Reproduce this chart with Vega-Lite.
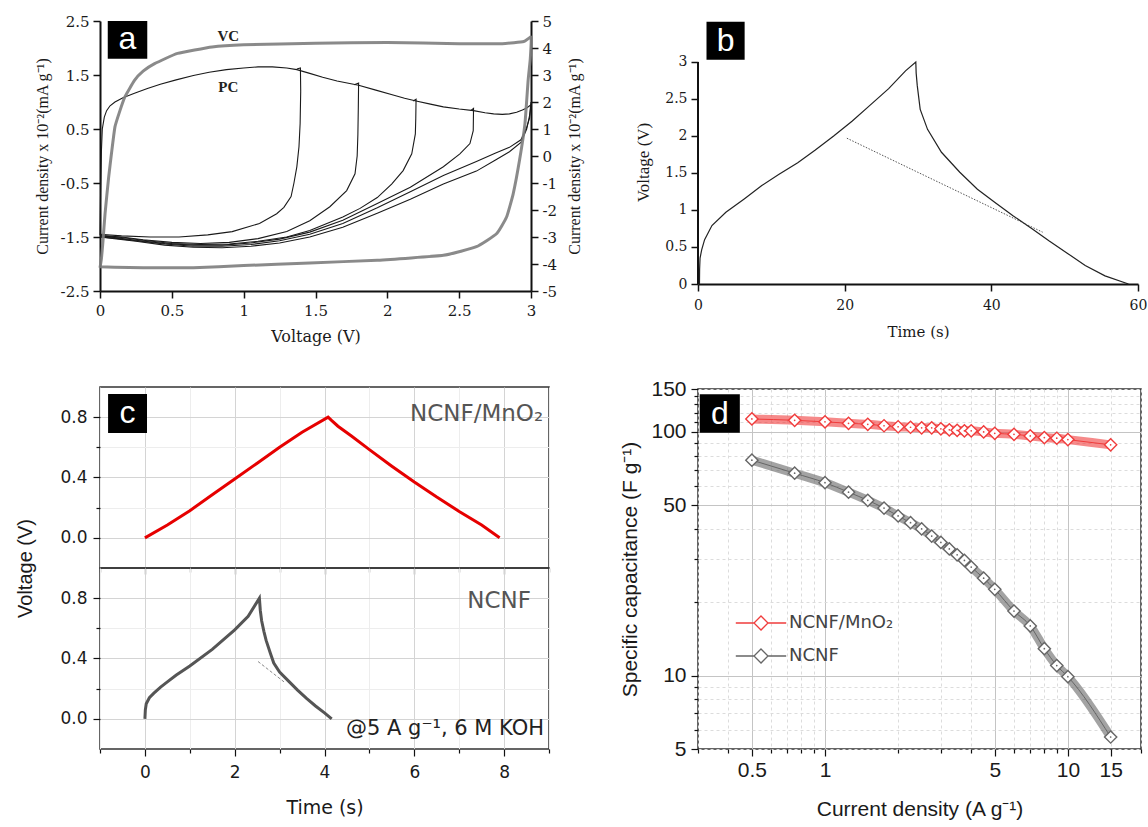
{
"$schema": "https://vega.github.io/schema/vega-lite/v6.json",
"padding": {"left": 15, "top": 14, "right": 0, "bottom": 0},
"config": {
  "view": {"stroke": null},
  "font": "Liberation Sans",
  "axis": {"labelFlush": false, "labelOverlap": false, "grid": false, "domainColor": "#111", "tickColor": "#111", "labelColor": "#1a1a1a", "titleColor": "#1a1a1a", "titleFontWeight": "normal", "domainWidth": 1.5, "tickWidth": 1.2}
},
"datasets": {
  "pc": [
    {"s":"up","i":0,"v":0,"j":-1.47},{"s":"up","i":1,"v":0.004,"j":-0.7},{"s":"up","i":2,"v":0.01,"j":0.1},{"s":"up","i":3,"v":0.016,"j":0.5},{"s":"up","i":4,"v":0.03,"j":0.72},{"s":"up","i":5,"v":0.046,"j":0.84},{"s":"up","i":6,"v":0.07,"j":0.93},{"s":"up","i":7,"v":0.104,"j":1.0},{"s":"up","i":8,"v":0.16,"j":1.08},{"s":"up","i":9,"v":0.24,"j":1.16},{"s":"up","i":10,"v":0.33,"j":1.25},{"s":"up","i":11,"v":0.42,"j":1.33},{"s":"up","i":12,"v":0.53,"j":1.41},{"s":"up","i":13,"v":0.65,"j":1.49},{"s":"up","i":14,"v":0.76,"j":1.55},{"s":"up","i":15,"v":0.88,"j":1.6},{"s":"up","i":16,"v":1.0,"j":1.63},{"s":"up","i":17,"v":1.1,"j":1.65},{"s":"up","i":18,"v":1.2,"j":1.65},{"s":"up","i":19,"v":1.3,"j":1.63},{"s":"up","i":20,"v":1.37,"j":1.6},{"s":"up","i":21,"v":1.46,"j":1.53},{"s":"up","i":22,"v":1.55,"j":1.46},{"s":"up","i":23,"v":1.65,"j":1.39},{"s":"up","i":24,"v":1.8,"j":1.31},{"s":"up","i":25,"v":1.92,"j":1.22},{"s":"up","i":26,"v":2.04,"j":1.13},{"s":"up","i":27,"v":2.12,"j":1.07},{"s":"up","i":28,"v":2.2,"j":1.02},{"s":"up","i":29,"v":2.3,"j":0.96},{"s":"up","i":30,"v":2.39,"j":0.91},{"s":"up","i":31,"v":2.5,"j":0.87},{"s":"up","i":32,"v":2.6,"j":0.84},{"s":"up","i":33,"v":2.68,"j":0.8},{"s":"up","i":34,"v":2.74,"j":0.78},{"s":"up","i":35,"v":2.8,"j":0.77},{"s":"up","i":36,"v":2.85,"j":0.78},{"s":"up","i":37,"v":2.9,"j":0.81},{"s":"up","i":38,"v":2.94,"j":0.85},{"s":"up","i":39,"v":2.97,"j":0.89},{"s":"up","i":40,"v":3.0,"j":0.95},
    {"s":"r14","i":0,"v":1.37,"j":1.61},{"s":"r14","i":1,"v":1.395,"j":1.63},{"s":"r14","i":2,"v":1.397,"j":1.2},{"s":"r14","i":3,"v":1.393,"j":0.6},{"s":"r14","i":4,"v":1.385,"j":0.17},{"s":"r14","i":5,"v":1.37,"j":-0.2},{"s":"r14","i":6,"v":1.35,"j":-0.5},{"s":"r14","i":7,"v":1.33,"j":-0.75},{"s":"r14","i":8,"v":1.28,"j":-0.95},{"s":"r14","i":9,"v":1.23,"j":-1.07},{"s":"r14","i":10,"v":1.11,"j":-1.25},{"s":"r14","i":11,"v":0.92,"j":-1.4},{"s":"r14","i":12,"v":0.75,"j":-1.46},{"s":"r14","i":13,"v":0.55,"j":-1.5},{"s":"r14","i":14,"v":0.35,"j":-1.5},{"s":"r14","i":15,"v":0.15,"j":-1.48},{"s":"r14","i":16,"v":0,"j":-1.45},
    {"s":"r18","i":0,"v":1.77,"j":1.32},{"s":"r18","i":1,"v":1.8,"j":1.35},{"s":"r18","i":2,"v":1.798,"j":0.9},{"s":"r18","i":3,"v":1.795,"j":0.4},{"s":"r18","i":4,"v":1.79,"j":0.0},{"s":"r18","i":5,"v":1.775,"j":-0.33},{"s":"r18","i":6,"v":1.717,"j":-0.64},{"s":"r18","i":7,"v":1.6,"j":-0.94},{"s":"r18","i":8,"v":1.46,"j":-1.2},{"s":"r18","i":9,"v":1.3,"j":-1.4},{"s":"r18","i":10,"v":1.1,"j":-1.53},{"s":"r18","i":11,"v":0.9,"j":-1.6},{"s":"r18","i":12,"v":0.7,"j":-1.62},{"s":"r18","i":13,"v":0.5,"j":-1.6},{"s":"r18","i":14,"v":0.3,"j":-1.55},{"s":"r18","i":15,"v":0.15,"j":-1.5},{"s":"r18","i":16,"v":0,"j":-1.47},
    {"s":"r22","i":0,"v":2.18,"j":1.02},{"s":"r22","i":1,"v":2.2,"j":1.05},{"s":"r22","i":2,"v":2.198,"j":0.7},{"s":"r22","i":3,"v":2.195,"j":0.41},{"s":"r22","i":4,"v":2.17,"j":0.04},{"s":"r22","i":5,"v":2.11,"j":-0.27},{"s":"r22","i":6,"v":2.03,"j":-0.52},{"s":"r22","i":7,"v":1.93,"j":-0.77},{"s":"r22","i":8,"v":1.81,"j":-0.97},{"s":"r22","i":9,"v":1.69,"j":-1.13},{"s":"r22","i":10,"v":1.46,"j":-1.38},{"s":"r22","i":11,"v":1.3,"j":-1.5},{"s":"r22","i":12,"v":1.1,"j":-1.58},{"s":"r22","i":13,"v":0.9,"j":-1.63},{"s":"r22","i":14,"v":0.7,"j":-1.64},{"s":"r22","i":15,"v":0.5,"j":-1.62},{"s":"r22","i":16,"v":0.3,"j":-1.56},{"s":"r22","i":17,"v":0.15,"j":-1.51},{"s":"r22","i":18,"v":0,"j":-1.48},
    {"s":"r26","i":0,"v":2.58,"j":0.84},{"s":"r26","i":1,"v":2.6,"j":0.88},{"s":"r26","i":2,"v":2.598,"j":0.47},{"s":"r26","i":3,"v":2.575,"j":0.23},{"s":"r26","i":4,"v":2.505,"j":0.04},{"s":"r26","i":5,"v":2.39,"j":-0.2},{"s":"r26","i":6,"v":2.16,"j":-0.58},{"s":"r26","i":7,"v":1.93,"j":-0.88},{"s":"r26","i":8,"v":1.69,"j":-1.19},{"s":"r26","i":9,"v":1.46,"j":-1.41},{"s":"r26","i":10,"v":1.25,"j":-1.54},{"s":"r26","i":11,"v":1.05,"j":-1.61},{"s":"r26","i":12,"v":0.85,"j":-1.65},{"s":"r26","i":13,"v":0.65,"j":-1.65},{"s":"r26","i":14,"v":0.45,"j":-1.62},{"s":"r26","i":15,"v":0.25,"j":-1.56},{"s":"r26","i":16,"v":0.1,"j":-1.51},{"s":"r26","i":17,"v":0,"j":-1.49},
    {"s":"r30a","i":0,"v":3.0,"j":0.95},{"s":"r30a","i":1,"v":2.99,"j":0.7},{"s":"r30a","i":2,"v":2.97,"j":0.53},{"s":"r30a","i":3,"v":2.93,"j":0.3},{"s":"r30a","i":4,"v":2.85,"j":0.16},{"s":"r30a","i":5,"v":2.75,"j":0.05},{"s":"r30a","i":6,"v":2.62,"j":-0.1},{"s":"r30a","i":7,"v":2.39,"j":-0.36},{"s":"r30a","i":8,"v":2.16,"j":-0.66},{"s":"r30a","i":9,"v":1.93,"j":-0.96},{"s":"r30a","i":10,"v":1.69,"j":-1.25},{"s":"r30a","i":11,"v":1.46,"j":-1.45},{"s":"r30a","i":12,"v":1.25,"j":-1.57},{"s":"r30a","i":13,"v":1.05,"j":-1.64},{"s":"r30a","i":14,"v":0.85,"j":-1.67},{"s":"r30a","i":15,"v":0.65,"j":-1.67},{"s":"r30a","i":16,"v":0.45,"j":-1.63},{"s":"r30a","i":17,"v":0.25,"j":-1.57},{"s":"r30a","i":18,"v":0.1,"j":-1.52},{"s":"r30a","i":19,"v":0,"j":-1.5},
    {"s":"r30b","i":0,"v":3.0,"j":1.0},{"s":"r30b","i":1,"v":2.99,"j":0.75},{"s":"r30b","i":2,"v":2.97,"j":0.5},{"s":"r30b","i":3,"v":2.93,"j":0.25},{"s":"r30b","i":4,"v":2.85,"j":0.08},{"s":"r30b","i":5,"v":2.75,"j":-0.08},{"s":"r30b","i":6,"v":2.62,"j":-0.28},{"s":"r30b","i":7,"v":2.39,"j":-0.52},{"s":"r30b","i":8,"v":2.16,"j":-0.8},{"s":"r30b","i":9,"v":1.93,"j":-1.06},{"s":"r30b","i":10,"v":1.69,"j":-1.32},{"s":"r30b","i":11,"v":1.46,"j":-1.5},{"s":"r30b","i":12,"v":1.25,"j":-1.61},{"s":"r30b","i":13,"v":1.05,"j":-1.67},{"s":"r30b","i":14,"v":0.85,"j":-1.7},{"s":"r30b","i":15,"v":0.65,"j":-1.69},{"s":"r30b","i":16,"v":0.45,"j":-1.65},{"s":"r30b","i":17,"v":0.25,"j":-1.58},{"s":"r30b","i":18,"v":0.1,"j":-1.53},{"s":"r30b","i":19,"v":0,"j":-1.5}
  ],
  "vc": [
    {"i":0,"v":0,"j":-4.14},{"i":1,"v":0.01,"j":-3.8},{"i":2,"v":0.02,"j":-3.2},{"i":3,"v":0.035,"j":-2.14},{"i":4,"v":0.06,"j":-0.8},{"i":5,"v":0.08,"j":0.1},{"i":6,"v":0.104,"j":1.08},{"i":7,"v":0.14,"j":1.7},{"i":8,"v":0.174,"j":2.2},{"i":9,"v":0.24,"j":2.8},{"i":10,"v":0.3,"j":3.14},{"i":11,"v":0.38,"j":3.42},{"i":12,"v":0.54,"j":3.8},{"i":13,"v":0.78,"j":4.04},{"i":14,"v":1.0,"j":4.12},{"i":15,"v":1.5,"j":4.18},{"i":16,"v":2.0,"j":4.2},{"i":17,"v":2.5,"j":4.16},{"i":18,"v":2.8,"j":4.16},{"i":19,"v":2.95,"j":4.24},{"i":20,"v":3.0,"j":4.4},
    {"i":21,"v":2.995,"j":3.6},{"i":22,"v":2.98,"j":2.8},{"i":23,"v":2.958,"j":1.2},{"i":24,"v":2.92,"j":-0.16},{"i":25,"v":2.876,"j":-1.4},{"i":26,"v":2.83,"j":-2.26},{"i":27,"v":2.76,"j":-2.88},{"i":28,"v":2.62,"j":-3.36},{"i":29,"v":2.39,"j":-3.68},{"i":30,"v":1.93,"j":-3.86},{"i":31,"v":1.46,"j":-3.96},{"i":32,"v":1.0,"j":-4.06},{"i":33,"v":0.65,"j":-4.14},{"i":34,"v":0.3,"j":-4.14},{"i":35,"v":0.1,"j":-4.12},{"i":36,"v":0,"j":-4.1}
  ],
  "gcd": [
    {"i":0,"t":0.2,"u":0},{"i":1,"t":0.22,"u":0.2},{"i":2,"t":0.28,"u":0.35},{"i":3,"t":0.5,"u":0.46},{"i":4,"t":0.9,"u":0.6},{"i":5,"t":1.9,"u":0.79},{"i":6,"t":3.8,"u":0.97},{"i":7,"t":6.3,"u":1.15},{"i":8,"t":8.7,"u":1.33},{"i":9,"t":11,"u":1.48},{"i":10,"t":13.6,"u":1.64},{"i":11,"t":16,"u":1.81},{"i":12,"t":18.5,"u":2.0},{"i":13,"t":21,"u":2.2},{"i":14,"t":23.4,"u":2.41},{"i":15,"t":26,"u":2.64},{"i":16,"t":28.3,"u":2.88},{"i":17,"t":29.7,"u":3.0},{"i":18,"t":29.75,"u":2.85},{"i":19,"t":29.9,"u":2.68},{"i":20,"t":30.3,"u":2.36},{"i":21,"t":31.3,"u":2.09},{"i":22,"t":33.2,"u":1.78},{"i":23,"t":35.7,"u":1.51},{"i":24,"t":38.1,"u":1.28},{"i":25,"t":40.5,"u":1.1},{"i":26,"t":43,"u":0.92},{"i":27,"t":45.5,"u":0.75},{"i":28,"t":47.9,"u":0.58},{"i":29,"t":50.3,"u":0.42},{"i":30,"t":52.8,"u":0.25},{"i":31,"t":55.5,"u":0.11},{"i":32,"t":58.7,"u":0}
  ],
  "gcddot": [{"i":0,"t":20.3,"u":1.97},{"i":1,"t":47,"u":0.7}],
  "cmno2": [
    {"i":0,"t":0,"u":0},{"i":1,"t":0.5,"u":0.085},{"i":2,"t":1,"u":0.18},{"i":3,"t":1.5,"u":0.285},{"i":4,"t":2,"u":0.39},{"i":5,"t":2.5,"u":0.495},{"i":6,"t":3,"u":0.6},{"i":7,"t":3.5,"u":0.7},{"i":8,"t":4.08,"u":0.8},{"i":9,"t":4.15,"u":0.78},{"i":10,"t":4.3,"u":0.74},{"i":11,"t":4.6,"u":0.675},{"i":12,"t":5,"u":0.585},{"i":13,"t":5.5,"u":0.475},{"i":14,"t":6,"u":0.37},{"i":15,"t":6.5,"u":0.27},{"i":16,"t":7,"u":0.175},{"i":17,"t":7.5,"u":0.085},{"i":18,"t":7.9,"u":0}
  ],
  "cncnf": [
    {"i":0,"t":0,"u":0},{"i":1,"t":0.01,"u":0.06},{"i":2,"t":0.03,"u":0.1},{"i":3,"t":0.1,"u":0.14},{"i":4,"t":0.2,"u":0.17},{"i":5,"t":0.35,"u":0.21},{"i":6,"t":0.5,"u":0.245},{"i":7,"t":0.7,"u":0.29},{"i":8,"t":1,"u":0.35},{"i":9,"t":1.5,"u":0.46},{"i":10,"t":2,"u":0.59},{"i":11,"t":2.3,"u":0.68},{"i":12,"t":2.55,"u":0.8},{"i":13,"t":2.57,"u":0.72},{"i":14,"t":2.6,"u":0.65},{"i":15,"t":2.65,"u":0.58},{"i":16,"t":2.7,"u":0.52},{"i":17,"t":2.8,"u":0.43},{"i":18,"t":2.87,"u":0.37},{"i":19,"t":3.0,"u":0.31},{"i":20,"t":3.2,"u":0.25},{"i":21,"t":3.4,"u":0.19},{"i":22,"t":3.6,"u":0.135},{"i":23,"t":3.8,"u":0.085},{"i":24,"t":4.0,"u":0.04},{"i":25,"t":4.16,"u":0}
  ],
  "cdash": [{"i":0,"t":2.52,"u":0.38},{"i":1,"t":3.12,"u":0.24}],
  "cap": [
    {"s":"NCNF/MnO₂","cd":0.5,"c":113},{"s":"NCNF/MnO₂","cd":0.75,"c":111.6},{"s":"NCNF/MnO₂","cd":1,"c":110},{"s":"NCNF/MnO₂","cd":1.25,"c":108.5},{"s":"NCNF/MnO₂","cd":1.5,"c":107.5},{"s":"NCNF/MnO₂","cd":1.75,"c":106},{"s":"NCNF/MnO₂","cd":2,"c":105},{"s":"NCNF/MnO₂","cd":2.25,"c":104.5},{"s":"NCNF/MnO₂","cd":2.5,"c":104},{"s":"NCNF/MnO₂","cd":2.75,"c":104},{"s":"NCNF/MnO₂","cd":3,"c":103},{"s":"NCNF/MnO₂","cd":3.25,"c":102},{"s":"NCNF/MnO₂","cd":3.5,"c":101.5},{"s":"NCNF/MnO₂","cd":3.75,"c":101},{"s":"NCNF/MnO₂","cd":4,"c":101},{"s":"NCNF/MnO₂","cd":4.5,"c":100},{"s":"NCNF/MnO₂","cd":5,"c":98.7},{"s":"NCNF/MnO₂","cd":6,"c":97.8},{"s":"NCNF/MnO₂","cd":7,"c":96.3},{"s":"NCNF/MnO₂","cd":8,"c":94.8},{"s":"NCNF/MnO₂","cd":9,"c":94.2},{"s":"NCNF/MnO₂","cd":10,"c":93},{"s":"NCNF/MnO₂","cd":15,"c":88.5},
    {"s":"NCNF","cd":0.5,"c":76.6},{"s":"NCNF","cd":0.75,"c":67.7},{"s":"NCNF","cd":1,"c":61.9},{"s":"NCNF","cd":1.25,"c":56.6},{"s":"NCNF","cd":1.5,"c":52.4},{"s":"NCNF","cd":1.75,"c":48.7},{"s":"NCNF","cd":2,"c":45.2},{"s":"NCNF","cd":2.25,"c":42.4},{"s":"NCNF","cd":2.5,"c":40.0},{"s":"NCNF","cd":2.75,"c":37.4},{"s":"NCNF","cd":3,"c":35.2},{"s":"NCNF","cd":3.25,"c":33.1},{"s":"NCNF","cd":3.5,"c":31.3},{"s":"NCNF","cd":3.75,"c":29.7},{"s":"NCNF","cd":4,"c":27.9},{"s":"NCNF","cd":4.5,"c":25.1},{"s":"NCNF","cd":5,"c":22.6},{"s":"NCNF","cd":6,"c":18.4},{"s":"NCNF","cd":7,"c":16.0},{"s":"NCNF","cd":8,"c":12.9},{"s":"NCNF","cd":9,"c":11.0},{"s":"NCNF","cd":10,"c":9.9},{"s":"NCNF","cd":15,"c":5.6}
  ]
},
"spacing": 36,
"hconcat": [
 {
  "spacing": 42,
  "vconcat": [
   {
    "width": 431, "height": 270,
    "layer": [
     {
      "layer": [
       {"data": {"name": "pc"}, "mark": {"type": "line", "color": "#1a1a1a", "strokeWidth": 1.1},
        "encoding": {
         "x": {"field": "v", "type": "quantitative", "title": "Voltage (V)", "scale": {"domain": [0, 3], "nice": false},
               "axis": {"values": [0,0.5,1,1.5,2,2.5,3], "labelExpr": "'' + datum.value", "labelOverlap": false, "labelFont": "DejaVu Serif", "labelFontSize": 15, "titleFont": "DejaVu Serif", "titleFontSize": 16, "tickSize": 7, "tickWidth": 1.5, "domainWidth": 2, "labelPadding": 5, "titlePadding": 10}},
         "y": {"field": "j", "type": "quantitative", "title": "Current density x 10⁻²(mA g⁻¹)", "scale": {"domain": [-2.5, 2.5], "nice": false},
               "axis": {"values": [-2.5,-2,-1.5,-1,-0.5,0,0.5,1,1.5,2,2.5], "labelExpr": "'' + datum.value", "labelOverlap": false, "labelFont": "DejaVu Serif", "labelFontSize": 15, "titleFont": "Liberation Serif", "titleFontSize": 16, "tickSize": 7, "tickWidth": 1.5, "domainWidth": 2, "labelPadding": 4, "titlePadding": 10}},
         "detail": {"field": "s"},
         "order": {"field": "i"}
        }},
       {"data": {"values": [{}]}, "mark": {"type": "rect", "color": "#000"},
        "encoding": {"x": {"datum": 0.054}, "x2": {"datum": 0.329}, "y": {"datum": 2.5}, "y2": {"datum": 1.8}}},
       {"data": {"values": [{}]}, "mark": {"type": "text", "text": "a", "color": "#fff", "font": "Liberation Sans", "fontSize": 32, "baseline": "middle", "align": "center"},
        "encoding": {"x": {"datum": 0.191}, "y": {"datum": 2.17}}},
       {"data": {"values": [{}]}, "mark": {"type": "text", "text": "VC", "color": "#222", "font": "Liberation Serif", "fontWeight": "bold", "fontSize": 15, "baseline": "middle", "align": "center"},
        "encoding": {"x": {"datum": 0.893}, "y": {"datum": 2.23}}},
       {"data": {"values": [{}]}, "mark": {"type": "text", "text": "PC", "color": "#222", "font": "Liberation Serif", "fontWeight": "bold", "fontSize": 15, "baseline": "middle", "align": "center"},
        "encoding": {"x": {"datum": 0.893}, "y": {"datum": 1.27}}}
      ]
     },
     {"data": {"name": "vc"}, "mark": {"type": "line", "color": "#7d7d7d", "strokeWidth": 3, "opacity": 0.9, "interpolate": "cardinal", "tension": 0.6},
      "encoding": {
       "x": {"field": "v", "type": "quantitative", "title": "Voltage (V)"},
       "y": {"field": "j", "type": "quantitative", "title": "Current density x 10⁻²(mA g⁻¹)", "scale": {"domain": [-5, 5], "nice": false},
             "axis": {"orient": "right", "values": [-5,-4,-3,-2,-1,0,1,2,3,4,5], "labelExpr": "'' + datum.value", "labelOverlap": false, "labelFont": "DejaVu Serif", "labelFontSize": 15, "titleFont": "Liberation Serif", "titleFontSize": 16, "tickSize": 7, "tickWidth": 1.5, "domainWidth": 2, "labelPadding": 4, "titlePadding": 10, "titleAngle": 270, "titleBaseline": "top"}},
       "order": {"field": "i"}
      }}
    ],
    "resolve": {"scale": {"y": "independent"}, "axis": {"y": "independent"}}
   },
   {
    "spacing": 0,
    "bounds": "flush",
    "vconcat": [
     {
      "width": 449, "height": 181,
      "view": {"stroke": "#333", "strokeWidth": 1.5},
      "layer": [
       {"data": {"name": "cmno2"}, "mark": {"type": "line", "color": "#e60000", "strokeWidth": 3},
        "encoding": {
         "x": {"field": "t", "type": "quantitative", "title": null, "scale": {"domain": [-1, 9], "nice": false},
               "axis": {"values": [-1,0,1,2,3,4,5,6,7,8,9], "labels": false, "domain": false, "tickSize": {"condition": {"test": "datum.value % 2 == 0", "value": 6}, "value": 4}, "grid": true, "gridColor": {"condition": {"test": "datum.value % 2 == 0", "value": "#d4d4d4"}, "value": "#ededed"}}},
         "y": {"field": "u", "type": "quantitative", "title": null, "scale": {"domain": [-0.2, 1.0], "nice": false},
               "axis": {"values": [0,0.2,0.4,0.6,0.8], "labelExpr": "datum.value == 0 || datum.value == 0.4 || datum.value == 0.8 ? format(datum.value, '.1f') : ''", "labelOverlap": false, "labelFont": "DejaVu Sans", "labelFontSize": 17, "labelPadding": 6, "domain": false, "tickSize": {"condition": {"test": "datum.value == 0.2 || datum.value == 0.6", "value": 4}, "value": 7}, "grid": true, "gridColor": {"condition": {"test": "datum.value == 0.2 || datum.value == 0.6", "value": "#ededed"}, "value": "#d4d4d4"}}},
         "order": {"field": "i"}
        }},
       {"data": {"values": [{}]}, "mark": {"type": "rect", "color": "#000"},
        "encoding": {"x": {"datum": -0.82}, "x2": {"datum": 0.047}, "y": {"datum": 0.954}, "y2": {"datum": 0.695}}},
       {"data": {"values": [{}]}, "mark": {"type": "text", "text": "c", "color": "#fff", "font": "Liberation Sans", "fontSize": 32, "baseline": "middle", "align": "center"},
        "encoding": {"x": {"datum": -0.387}, "y": {"datum": 0.83}}},
       {"data": {"values": [{}]}, "mark": {"type": "text", "text": "NCNF/MnO₂", "color": "#555", "font": "DejaVu Sans", "fontSize": 23, "baseline": "middle", "align": "right"},
        "encoding": {"x": {"datum": 8.87}, "y": {"datum": 0.82}}}
      ]
     },
     {
      "width": 449, "height": 181,
      "view": {"stroke": "#333", "strokeWidth": 1.5},
      "layer": [
       {"data": {"name": "cncnf"}, "mark": {"type": "line", "color": "#555", "strokeWidth": 3},
        "encoding": {
         "x": {"field": "t", "type": "quantitative", "title": "Time (s)", "scale": {"domain": [-1, 9], "nice": false},
               "axis": {"values": [-1,0,1,2,3,4,5,6,7,8,9], "labelExpr": "datum.value % 2 == 0 && datum.value >= 0 && datum.value <= 8 ? '' + datum.value : ''", "labelOverlap": false, "labelFont": "DejaVu Sans", "labelFontSize": 17, "labelPadding": 8, "titleFont": "DejaVu Sans", "titleFontSize": 19, "titlePadding": 18, "domain": false, "tickSize": {"condition": {"test": "datum.value % 2 == 0", "value": 7}, "value": 4}, "grid": true, "gridColor": {"condition": {"test": "datum.value % 2 == 0", "value": "#d4d4d4"}, "value": "#ededed"}}},
         "y": {"field": "u", "type": "quantitative", "title": "Voltage (V)", "scale": {"domain": [-0.2, 1.0], "nice": false},
               "axis": {"values": [0,0.2,0.4,0.6,0.8], "labelExpr": "datum.value == 0 || datum.value == 0.4 || datum.value == 0.8 ? format(datum.value, '.1f') : ''", "labelOverlap": false, "labelFont": "DejaVu Sans", "labelFontSize": 17, "labelPadding": 6, "titleFont": "Liberation Sans", "titleFontSize": 20, "titlePadding": 24, "titleY": 0, "domain": false, "tickSize": {"condition": {"test": "datum.value == 0.2 || datum.value == 0.6", "value": 4}, "value": 7}, "grid": true, "gridColor": {"condition": {"test": "datum.value == 0.2 || datum.value == 0.6", "value": "#ededed"}, "value": "#d4d4d4"}}},
         "order": {"field": "i"}
        }},
       {"data": {"name": "cdash"}, "mark": {"type": "line", "color": "#888", "strokeWidth": 1, "strokeDash": [3, 2]},
        "encoding": {"x": {"field": "t", "type": "quantitative"}, "y": {"field": "u", "type": "quantitative"}, "order": {"field": "i"}}},
       {"data": {"values": [{}]}, "mark": {"type": "text", "text": "NCNF", "color": "#555", "font": "DejaVu Sans", "fontSize": 23, "baseline": "middle", "align": "right"},
        "encoding": {"x": {"datum": 8.6}, "y": {"datum": 0.78}}},
       {"data": {"values": [{}]}, "mark": {"type": "text", "text": "@5 A g⁻¹, 6 M KOH", "color": "#222", "font": "DejaVu Sans", "fontSize": 21, "baseline": "middle", "align": "right"},
        "encoding": {"x": {"datum": 8.89}, "y": {"datum": -0.066}}}
      ]
     }
    ]
   }
  ]
 },
 {
  "spacing": 38,
  "vconcat": [
   {
    "width": 440, "height": 263,
    "layer": [
     {"data": {"name": "gcd"}, "mark": {"type": "line", "color": "#222", "strokeWidth": 1.2},
      "encoding": {
       "x": {"field": "t", "type": "quantitative", "title": "Time (s)", "scale": {"domain": [0, 60], "nice": false},
             "axis": {"values": [0,20,40,60], "labelExpr": "'' + datum.value", "labelOverlap": false, "labelFont": "DejaVu Serif", "labelFontSize": 14, "titleFont": "DejaVu Serif", "titleFontSize": 15, "tickSize": 7, "tickWidth": 1.5, "domainWidth": 2, "labelPadding": 7, "titlePadding": 12}},
       "y": {"field": "u", "type": "quantitative", "title": "Voltage (V)", "scale": {"domain": [0, 3.554], "nice": false},
             "axis": {"values": [0,0.5,1,1.5,2,2.5,3], "labelExpr": "'' + datum.value", "labelOverlap": false, "labelFont": "DejaVu Serif", "labelFontSize": 14, "titleFont": "Liberation Serif", "titleFontSize": 17, "tickSize": 7, "tickWidth": 1.5, "domain": false, "labelPadding": 4, "titlePadding": 12, "titleY": 141}},
       "order": {"field": "i"}
      }},
     {"data": {"values": [{}]}, "mark": {"type": "rule", "color": "#111", "strokeWidth": 2},
      "encoding": {"x": {"datum": 0}, "y": {"datum": 0}, "y2": {"datum": 3}}},
     {"data": {"name": "gcddot"}, "mark": {"type": "line", "color": "#555", "strokeWidth": 1, "strokeDash": [1.5, 1.5]},
      "encoding": {"x": {"field": "t", "type": "quantitative"}, "y": {"field": "u", "type": "quantitative"}, "order": {"field": "i"}}},
     {"data": {"values": [{}]}, "mark": {"type": "rect", "color": "#000"},
      "encoding": {"x": {"datum": 1.16}, "x2": {"datum": 6.36}, "y": {"datum": 3.03}, "y2": {"datum": 3.545}}},
     {"data": {"values": [{}]}, "mark": {"type": "text", "text": "b", "color": "#fff", "font": "Liberation Sans", "fontSize": 32, "baseline": "middle", "align": "center"},
      "encoding": {"x": {"datum": 3.76}, "y": {"datum": 3.29}}}
    ]
   },
   {
    "width": 443, "height": 360,
    "view": {"stroke": "#333", "strokeWidth": 1.5},
    "layer": [
     {"data": {"name": "cap"}, "mark": {"type": "line", "strokeWidth": 9, "opacity": 0.6, "interpolate": "monotone"},
      "encoding": {
       "x": {"field": "cd", "type": "quantitative", "title": "Current  density (A g⁻¹)", "scale": {"type": "log", "domain": [0.3, 20], "nice": false},
             "axis": {"values": [0.3,0.4,0.5,0.6,0.7,0.8,0.9,1,2,3,4,5,6,7,8,9,10,15,20], "labelExpr": "indexof([0.5,1,5,10,15], datum.value) >= 0 ? '' + datum.value : ''", "labelOverlap": false, "labelFontSize": 21, "labelPadding": 3, "titleFontSize": 21, "titlePadding": 18, "domain": false,
                      "tickSize": {"condition": {"test": "indexof([0.5,1,5,10,15], datum.value) >= 0", "value": 7}, "value": 4},
                      "grid": true, "gridColor": {"condition": {"test": "indexof([0.5,1,5,10], datum.value) >= 0", "value": "#c4c4c4"}, "value": "#dcdcdc"},
                      "gridDash": {"condition": {"test": "indexof([0.5,1,5,10], datum.value) >= 0", "value": []}, "value": [3, 3]}}},
       "y": {"field": "c", "type": "quantitative", "title": "Specific capacitance (F g⁻¹)", "scale": {"type": "log", "domain": [5, 150], "nice": false},
             "axis": {"values": [5,6,7,8,9,10,20,30,40,50,60,70,80,90,100,110,120,130,140,150], "labelExpr": "indexof([5,10,50,100,150], datum.value) >= 0 ? '' + datum.value : ''", "labelOverlap": false, "labelFontSize": 21, "labelPadding": 5, "titleFontSize": 21, "titlePadding": 10, "domain": false,
                      "tickSize": {"condition": {"test": "indexof([5,10,50,100,150], datum.value) >= 0", "value": 7}, "value": 4},
                      "grid": true, "gridColor": {"condition": {"test": "indexof([10,50,100], datum.value) >= 0", "value": "#c4c4c4"}, "value": "#dcdcdc"},
                      "gridDash": {"condition": {"test": "indexof([10,50,100], datum.value) >= 0", "value": []}, "value": [3, 3]}}},
       "stroke": {"field": "s", "type": "nominal", "title": null, "scale": {"domain": ["NCNF/MnO₂", "NCNF"], "range": ["#f03c3c", "#666666"]},
                  "legend": {"orient": "none", "legendX": 652, "legendY": 593, "symbolType": "M-3.6,0H-1M1,0H3.6M0,-1L1,0L0,1L-1,0Z", "symbolSize": 196, "symbolFillColor": "#fff", "symbolStrokeWidth": 1.3, "symbolOpacity": 1, "labelFont": "DejaVu Sans", "labelFontSize": 18, "labelColor": "#444", "labelOffset": 19, "rowPadding": 13, "padding": 0}}
      }},
     {"data": {"name": "cap"}, "mark": {"type": "line", "strokeWidth": 1, "interpolate": "monotone"},
      "encoding": {"x": {"field": "cd", "type": "quantitative", "title": "Current  density (A g⁻¹)"}, "y": {"field": "c", "type": "quantitative", "title": "Specific capacitance (F g⁻¹)"}, "stroke": {"field": "s", "type": "nominal", "title": null}}},
     {"data": {"name": "cap"}, "mark": {"type": "point", "shape": "diamond", "filled": true, "fill": "#fff", "size": 150, "strokeWidth": 1.4, "opacity": 1},
      "encoding": {"x": {"field": "cd", "type": "quantitative", "title": "Current  density (A g⁻¹)"}, "y": {"field": "c", "type": "quantitative", "title": "Specific capacitance (F g⁻¹)"}, "stroke": {"field": "s", "type": "nominal", "title": null}}},
     {"data": {"name": "cap"}, "transform": [{"filter": "datum.s != 'NCNF'"}], "mark": {"type": "point", "shape": "circle", "filled": true, "size": 3, "opacity": 1, "color": "#f03c3c"},
      "encoding": {"x": {"field": "cd", "type": "quantitative", "title": "Current  density (A g⁻¹)"}, "y": {"field": "c", "type": "quantitative", "title": "Specific capacitance (F g⁻¹)"}}},
     {"data": {"name": "cap"}, "transform": [{"filter": "datum.s == 'NCNF'"}], "mark": {"type": "point", "shape": "circle", "filled": true, "size": 3, "opacity": 1, "color": "#666666"},
      "encoding": {"x": {"field": "cd", "type": "quantitative", "title": "Current  density (A g⁻¹)"}, "y": {"field": "c", "type": "quantitative", "title": "Specific capacitance (F g⁻¹)"}}},
     {"data": {"values": [{}]}, "mark": {"type": "rect", "color": "#000"},
      "encoding": {"x": {"datum": 0.305}, "x2": {"datum": 0.446}, "y": {"datum": 142.6}, "y2": {"datum": 99.3}}},
     {"data": {"values": [{}]}, "mark": {"type": "text", "text": "d", "color": "#fff", "font": "Liberation Sans", "fontSize": 32, "baseline": "middle", "align": "center"},
      "encoding": {"x": {"datum": 0.369}, "y": {"datum": 119}}}
    ]
   }
  ]
 }
]
}
